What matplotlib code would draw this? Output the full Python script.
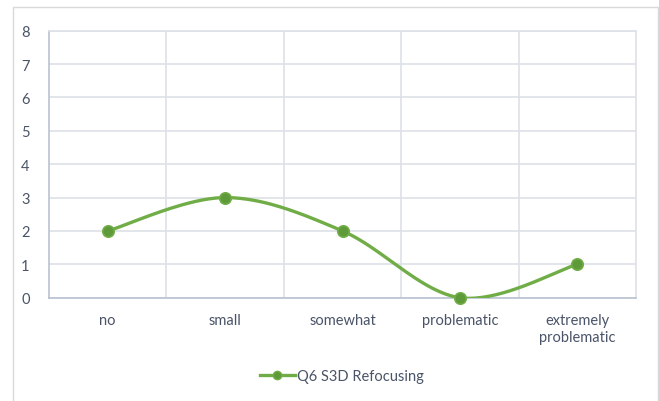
import numpy as np
import matplotlib
matplotlib.use("Agg")
import matplotlib.pyplot as plt
from matplotlib.patches import Rectangle
from matplotlib.lines import Line2D

categories = ["no", "small", "somewhat", "problematic", "extremely\nproblematic"]
values = [2, 3, 2, 0, 1]
series_name = "Q6 S3D Refocusing"
yticks = [0, 1, 2, 3, 4, 5, 6, 7, 8]

plt.rcParams['font.family'] = ['Lato', 'DejaVu Sans']
text_color = '#4A5468'
line_color = '#70AD47'
marker_fill = '#5F9A3A'
grid_color = '#DDE1E8'

fig = plt.figure(figsize=(6.59, 4.02), dpi=100)
fig.patches.append(Rectangle((13/659, -0.01), (658-13)/659, (402-8)/402 + 0.01,
                             transform=fig.transFigure, fill=False,
                             edgecolor='#D9D9D9', linewidth=1.0))
ax = fig.add_axes([49/659, 1 - 298.7/402, (636-49)/659, (298.7-31.7)/402])

# Excel-style smoothed line (Bezier through points)
x = np.arange(len(values), dtype=float)
y = np.array(values, dtype=float)
px, py = [], []
n = len(x)
for i in range(n - 1):
    p0 = np.array([x[max(i-1, 0)], y[max(i-1, 0)]])
    p1 = np.array([x[i], y[i]])
    p2 = np.array([x[i+1], y[i+1]])
    p3 = np.array([x[min(i+2, n-1)], y[min(i+2, n-1)]])
    c1 = p1 + (p2 - p0) / 6.0
    c2 = p2 - (p3 - p1) / 6.0
    t = np.linspace(0, 1, 40)[:, None]
    pts = ((1-t)**3) * p1 + 3*((1-t)**2)*t*c1 + 3*(1-t)*(t**2)*c2 + (t**3)*p2
    px.extend(pts[:, 0]); py.extend(pts[:, 1])
ax.plot(px, py, color=line_color, linewidth=2.4, solid_capstyle='round', zorder=3)
ax.plot(x, y, linestyle='none', marker='o', markersize=8.2,
        markerfacecolor=marker_fill, markeredgecolor=line_color,
        markeredgewidth=1.2, zorder=4, clip_on=False)

ax.set_xlim(-0.5, len(categories) - 0.5)
ax.set_ylim(0, 8)
ax.set_yticks(yticks)
ax.set_yticklabels([str(v) for v in yticks])
ax.set_xticks(x)
ax.set_xticklabels(categories, linespacing=1.25)
ax.set_xticks(np.arange(0.5, len(categories) - 0.5, 1.0), minor=True)

ax.grid(True, which='major', axis='y', color=grid_color, linewidth=1.2)
ax.grid(True, which='minor', axis='x', color=grid_color, linewidth=1.2)
ax.set_axisbelow(True)
ax.tick_params(axis='both', which='both', length=0, colors=text_color, labelsize=10.5)
ax.tick_params(axis='y', pad=14)
ax.tick_params(axis='x', pad=11)

for s in ['top', 'right']:
    ax.spines[s].set_color(grid_color)
    ax.spines[s].set_linewidth(1.2)
for s in ['left', 'bottom']:
    ax.spines[s].set_color('#B8C2D0')
    ax.spines[s].set_linewidth(1.2)

handle = Line2D([], [], color=line_color, linewidth=2.4, marker='o', markersize=6,
                markerfacecolor=marker_fill, markeredgecolor=line_color)
fig.legend([handle], [series_name], loc='center', bbox_to_anchor=(342/659, 1 - 377/402),
           frameon=False, fontsize=10.5, labelcolor=text_color, handlelength=2.4,
           handletextpad=0.15)

fig.savefig("out.png", dpi=100)
